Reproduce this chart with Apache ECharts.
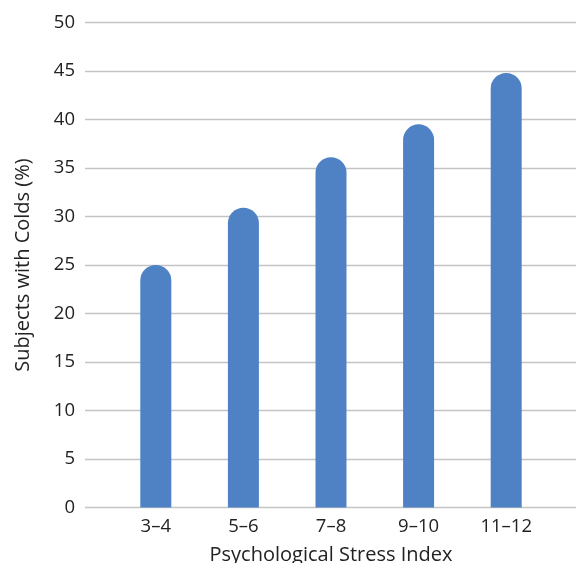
<!DOCTYPE html>
<html>
<head>
<meta charset="utf-8">
<script src="https://cdn.jsdelivr.net/npm/echarts@6/dist/echarts.min.js"></script>
<style>
html,body{margin:0;padding:0;background:#fff;}
#chart{width:576px;height:563px;}
</style>
</head>
<body>
<div id="chart"></div>
<script>
const categories = ['3–4', '5–6', '7–8', '9–10', '11–12'];
const coldsPercent = [25.0, 30.9, 36.1, 39.5, 44.8];
const yTicks = { min: 0, max: 50, interval: 5 };
const xTitle = 'Psychological Stress Index';
const yTitle = 'Subjects with Colds (%)';

const font = '"Open Sans", "Lato", sans-serif';
const textColor = '#222222';
const gridColor = '#c4c4c4';
const barColor = '#4f82c4';

const chart = echarts.init(document.getElementById('chart'), null, { renderer: 'canvas' });
chart.setOption({
  animation: false,
  backgroundColor: '#fff',
  grid: [
    { left: 85, right: 0, top: 22.5, bottom: 55.5, containLabel: false, outerBoundsMode: 'none' },
    { left: 112, right: 26, top: 22.5, bottom: 55.5, containLabel: false, outerBoundsMode: 'none' }
  ],
  xAxis: [
    {
      gridIndex: 0, type: 'category', data: categories,
      axisLine: { show: false }, axisTick: { show: false }, axisLabel: { show: false }
    },
    {
      gridIndex: 1, type: 'category', data: categories,
      axisLine: { show: false }, axisTick: { show: false },
      axisLabel: { color: textColor, fontSize: 18.5, fontFamily: font, margin: 10 },
      name: xTitle, nameLocation: 'middle', nameGap: 38,
      nameTextStyle: { color: textColor, fontSize: 20, fontFamily: font }
    }
  ],
  yAxis: [
    {
      gridIndex: 0, type: 'value', min: yTicks.min, max: yTicks.max, interval: yTicks.interval,
      axisLine: { show: false }, axisTick: { show: false },
      axisLabel: { color: textColor, fontSize: 18.5, fontFamily: font, margin: 10 },
      splitLine: { show: true, lineStyle: { color: gridColor, width: 1.3 } },
      name: yTitle, nameLocation: 'middle', nameGap: 52, nameRotate: 90,
      nameTextStyle: { color: textColor, fontSize: 20, fontFamily: font }
    },
    {
      gridIndex: 1, type: 'value', min: yTicks.min, max: yTicks.max, interval: yTicks.interval,
      show: false
    }
  ],
  series: [
    {
      type: 'bar', xAxisIndex: 1, yAxisIndex: 1, data: coldsPercent,
      barWidth: 31,
      itemStyle: { color: barColor, borderRadius: [15.5, 15.5, 0, 0] }
    }
  ]
});
</script>
</body>
</html>
